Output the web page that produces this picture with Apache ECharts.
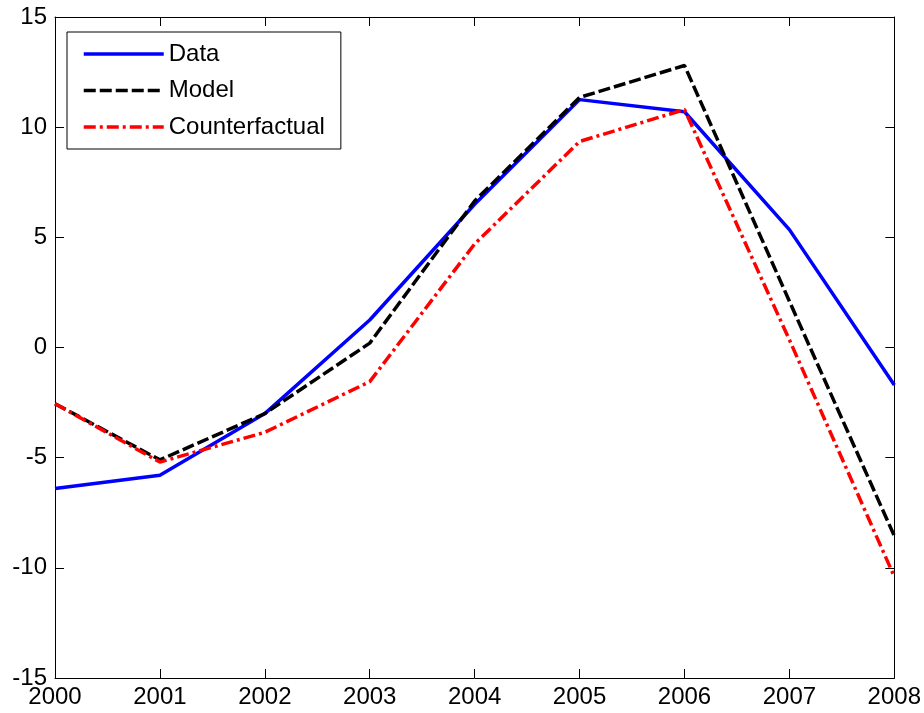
<!DOCTYPE html>
<html>
<head>
<meta charset="utf-8">
<script src="https://cdn.jsdelivr.net/npm/echarts@6/dist/echarts.min.js"></script>
<style>
html,body{margin:0;padding:0;background:#fff;}
#chart{width:924px;height:713px;}
</style>
</head>
<body>
<div id="chart"></div>
<script>
var years = [2000, 2001, 2002, 2003, 2004, 2005, 2006, 2007, 2008];
var dataValues = [-6.4, -5.8, -3.0, 1.25, 6.5, 11.25, 10.7, 5.35, -1.7];
var modelValues = [-2.55, -5.1, -3.0, 0.2, 6.65, 11.35, 12.8, 2.1, -8.55];
var counterfactualValues = [-2.55, -5.2, -3.85, -1.55, 4.7, 9.35, 10.8, 0.35, -10.4];
var yTicks = [-15, -10, -5, 0, 5, 10, 15];

function pairs(vals) {
  return years.map(function (y, i) { return [y, vals[i]]; });
}

var font = '"Liberation Sans", Arial, sans-serif';
var chart = echarts.init(document.getElementById('chart'));

var tickStyle = { show: true, inside: true, length: 9, lineStyle: { color: '#000', width: 1 } };
var lineStyleAxis = { show: true, onZero: false, lineStyle: { color: '#000', width: 1 } };

chart.setOption({
  animation: false,
  backgroundColor: '#fff',
  textStyle: { fontFamily: font },
  grid: { left: 55, right: 29, top: 17, bottom: 35, containLabel: false },
  legend: {
    left: 67, top: 32, orient: 'vertical',
    backgroundColor: '#fff', borderColor: '#000', borderWidth: 1, borderRadius: 0,
    padding: [10, 16, 10, 15],
    itemWidth: 80, itemHeight: 24, itemGap: 12.5,
    itemStyle: { opacity: 0 },
    lineStyle: { width: 3.5 },
    textStyle: { fontFamily: font, fontSize: 24, color: '#000', lineHeight: 24 },
    data: ['Data', 'Model', 'Counterfactual']
  },
  xAxis: [
    {
      type: 'value', min: years[0], max: years[years.length - 1], interval: 1,
      position: 'bottom',
      axisLine: lineStyleAxis, axisTick: tickStyle, splitLine: { show: false },
      axisLabel: { color: '#000', fontSize: 24, fontFamily: font, margin: 7,
        showMinLabel: true, showMaxLabel: true,
        formatter: function (v) { return String(v); } }
    },
    {
      type: 'value', min: years[0], max: years[years.length - 1], interval: 1,
      position: 'top',
      axisLine: lineStyleAxis, axisTick: tickStyle, splitLine: { show: false },
      axisLabel: { show: false }
    }
  ],
  yAxis: [
    {
      type: 'value', min: yTicks[0], max: yTicks[yTicks.length - 1], interval: 5,
      position: 'left',
      axisLine: lineStyleAxis, axisTick: tickStyle, splitLine: { show: false },
      axisLabel: { color: '#000', fontSize: 24, fontFamily: font, margin: 8,
        showMinLabel: true, showMaxLabel: true }
    },
    {
      type: 'value', min: yTicks[0], max: yTicks[yTicks.length - 1], interval: 5,
      position: 'right',
      axisLine: lineStyleAxis, axisTick: tickStyle, splitLine: { show: false },
      axisLabel: { show: false }
    }
  ],
  series: [
    {
      name: 'Data', type: 'line', data: pairs(dataValues),
      symbol: 'none', xAxisIndex: 0, yAxisIndex: 0,
      itemStyle: { color: '#0000ff' },
      lineStyle: { color: '#0000ff', width: 3.5, type: 'solid' }
    },
    {
      name: 'Model', type: 'line', data: pairs(modelValues),
      symbol: 'none', xAxisIndex: 0, yAxisIndex: 0,
      itemStyle: { color: '#000000' },
      lineStyle: { color: '#000000', width: 3.5, type: [12, 4] }
    },
    {
      name: 'Counterfactual', type: 'line', data: pairs(counterfactualValues),
      symbol: 'none', xAxisIndex: 0, yAxisIndex: 0,
      itemStyle: { color: '#ff0000' },
      lineStyle: { color: '#ff0000', width: 3.5, type: [12, 4, 3, 4] }
    }
  ]
});
</script>
</body>
</html>
